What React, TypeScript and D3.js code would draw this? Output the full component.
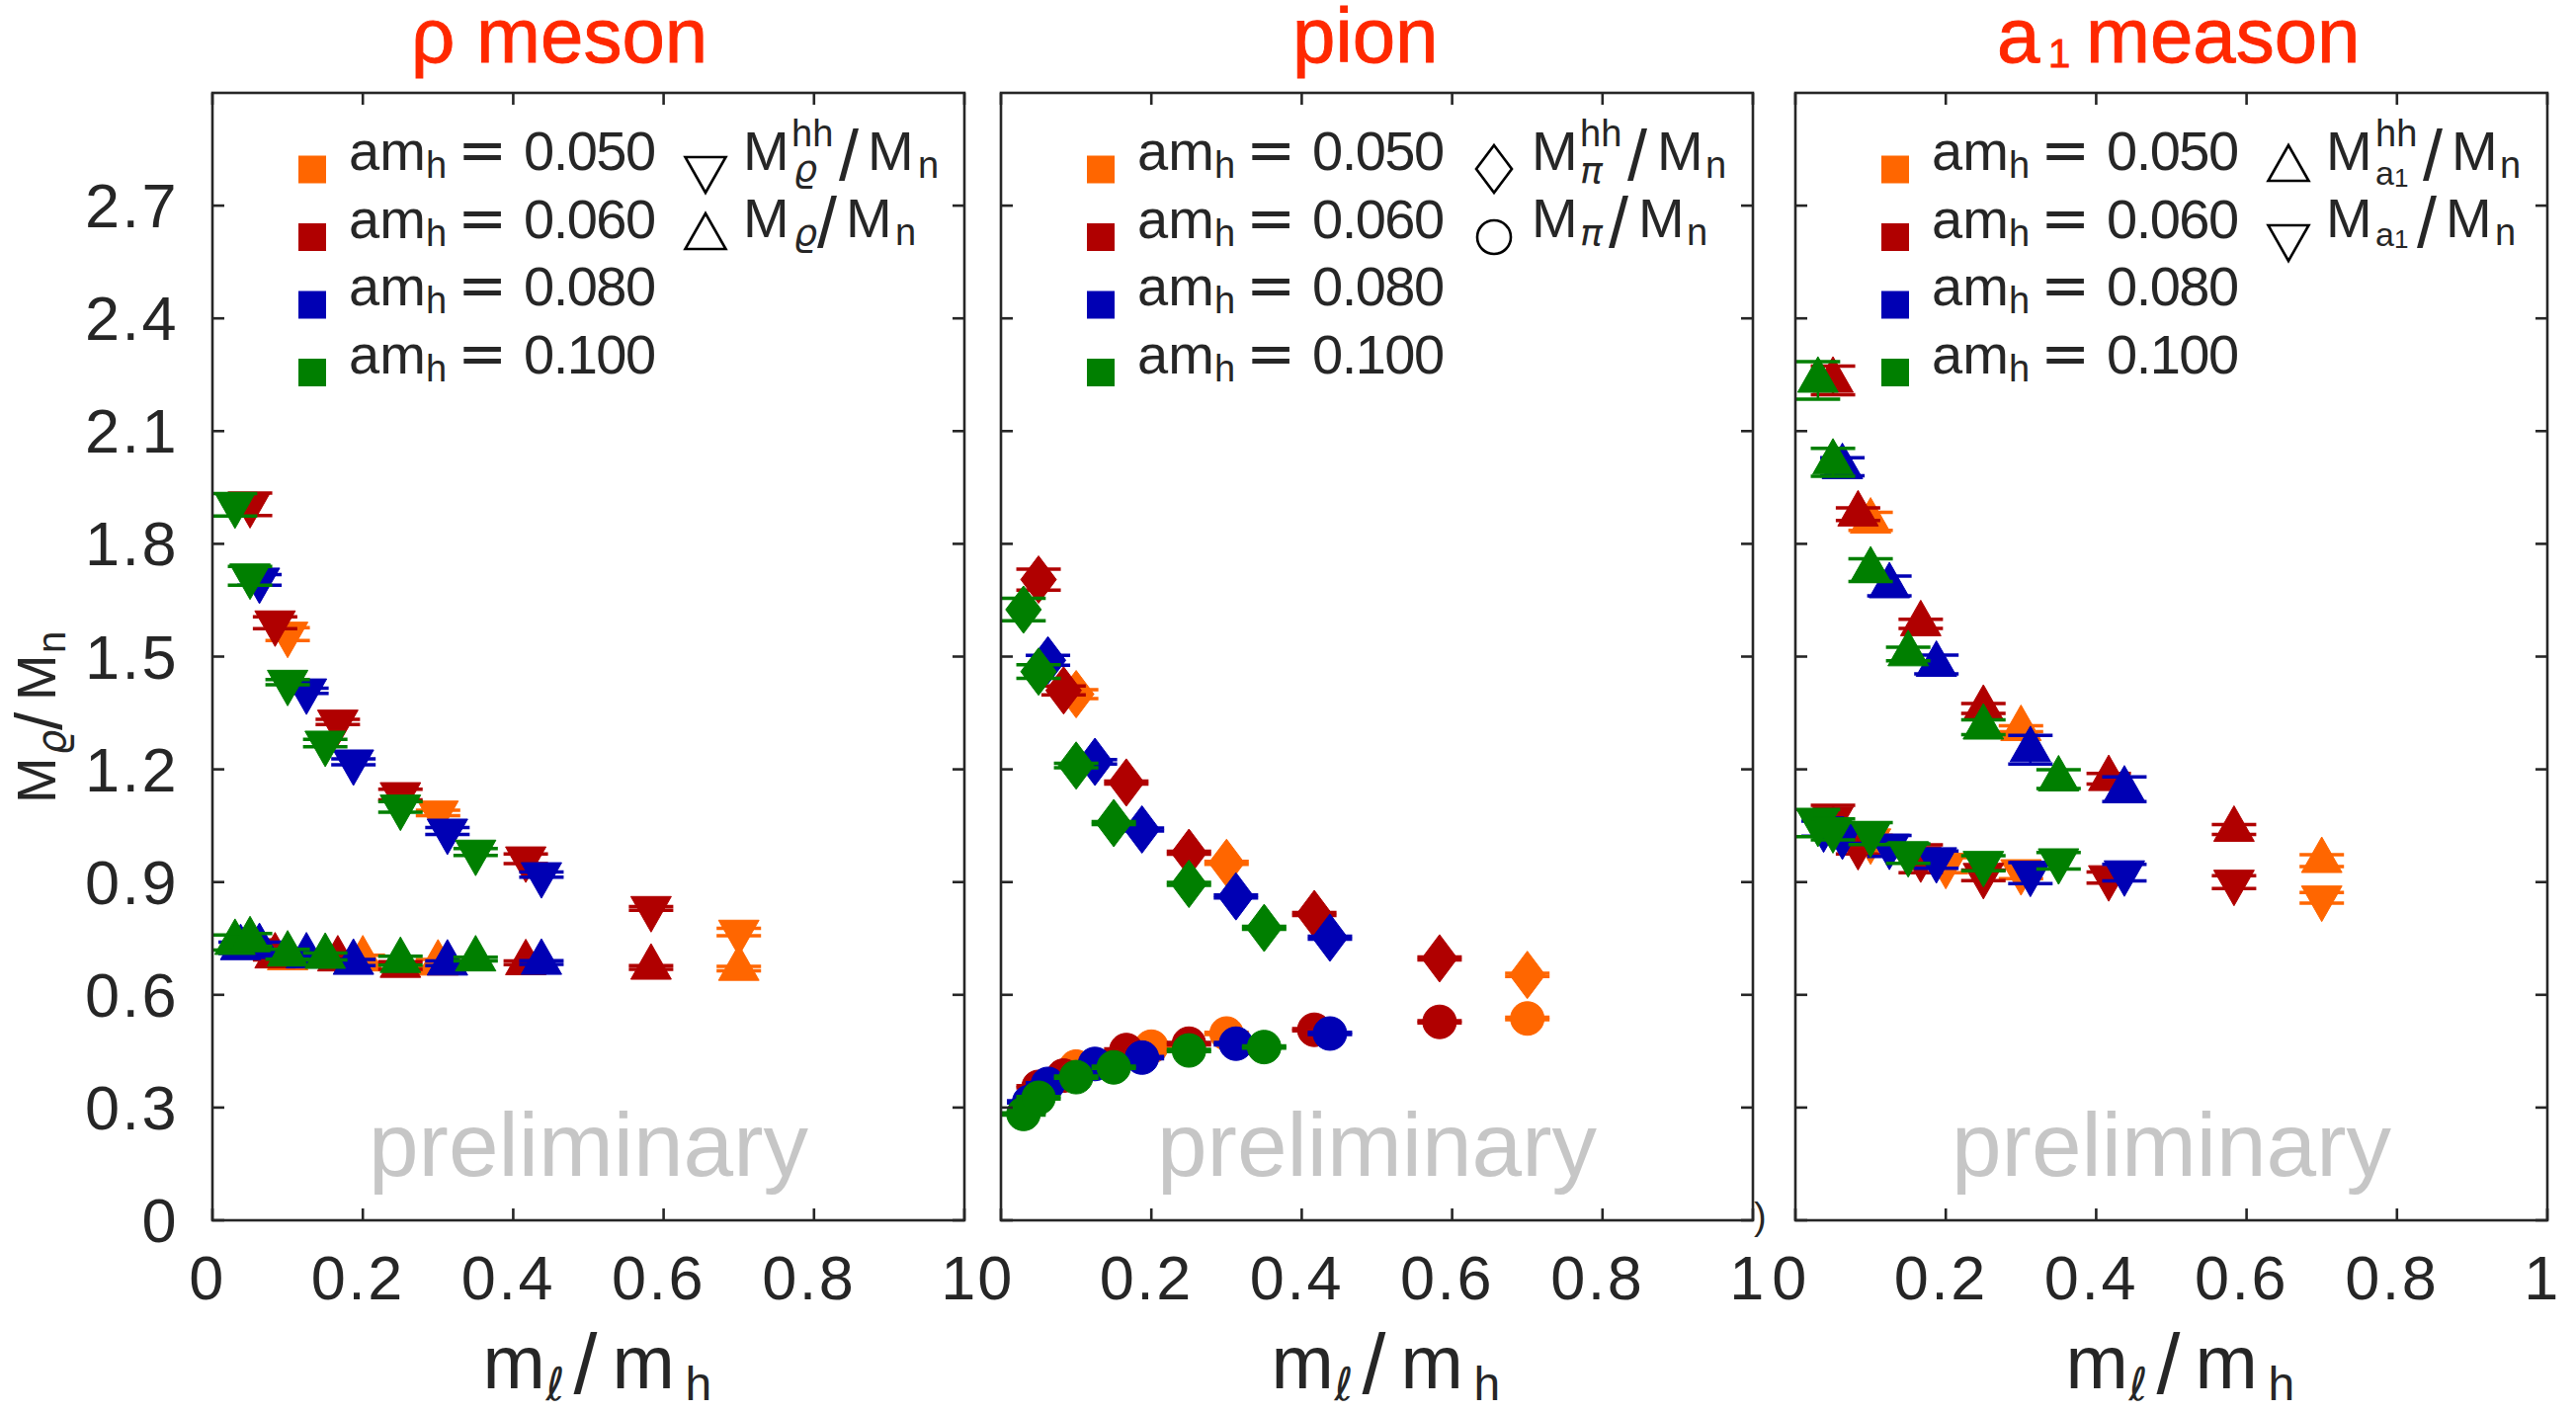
import React from "react";
import * as d3 from "d3";

const FONT = "'Liberation Sans', Arial, Helvetica, sans-serif";
const MATH_FONT = "'DejaVu Sans', 'Liberation Sans', sans-serif";
const INK = "#262626";
const TITLE_RED = "#ff2800";
const WATERMARK = "#c6c6c6";

// heavy-quark masses, drawn in this order (later ensembles sit on top)
const amhLabels = ["0.050", "0.060", "0.080", "0.100"];
const amhColors = ["#ff6600", "#b00000", "#0000b4", "#007f00"];

// m_l / m_h for every ensemble
const ratio050 = [0.1, 0.2, 0.3, 0.7];
const ratio060 = [0.05, 0.0833, 0.1667, 0.25, 0.4167, 0.5833];
const ratio080 = [0.0375, 0.0625, 0.125, 0.1875, 0.3125, 0.4375];
const ratio100 = [0.03, 0.05, 0.1, 0.15, 0.25, 0.35];
const ratios = [ratio050, ratio060, ratio080, ratio100];

// rho: M^hh / M_n and M / M_n (rows: am_h = 0.050, 0.060, 0.080, 0.100)
const rhoHeavy = [
  [1.56, null, 1.084, 0.767],
  [1.905, 1.59, 1.326, 1.133, 0.962, 0.83],
  [null, 1.704, 1.409, 1.22, 1.036, 0.92],
  [1.904, 1.715, 1.432, 1.27, 1.1, 0.98],
];
const rhoHeavyErr = [
  [0.017, 0, 0.007, 0.01],
  [0.03, 0.016, 0.007, 0.014, 0.013, 0.005],
  [0, 0.014, 0.007, 0.008, 0.009, 0.007],
  [0.03, 0.025, 0.007, 0.01, 0.014, 0.009],
];
const rhoLight = [
  [0.698, 0.695, 0.684, 0.67],
  [0.728, 0.703, 0.695, 0.678, 0.685, 0.673],
  [0.725, 0.728, 0.703, 0.686, 0.684, 0.686],
  [0.739, 0.746, 0.708, 0.702, 0.691, 0.695],
];
const rhoLightErr = [
  [0.01, 0.01, 0.01, 0.006],
  [0.018, 0.01, 0.01, 0.01, 0.005, 0.005],
  [0.015, 0.012, 0.01, 0.008, 0.006, 0.005],
  [0.02, 0.017, 0.013, 0.009, 0.012, 0.005],
];

// pion
const pionHeavy = [
  [1.4, null, 0.951, 0.653],
  [1.705, 1.41, 1.165, 0.978, 0.815, 0.697],
  [null, 1.49, 1.22, 1.04, 0.862, 0.752],
  [1.625, 1.46, 1.21, 1.057, 0.895, 0.778],
];
const pionHeavyErr = [
  [0.012, 0, 0.004, 0.004],
  [0.028, 0.012, 0.004, 0.004, 0.004, 0.004],
  [0, 0.013, 0.006, 0.004, 0.004, 0.004],
  [0.03, 0.018, 0.006, 0.004, 0.004, 0.004],
];
const pionLight = [
  [0.409, 0.462, 0.497, 0.537],
  [0.355, 0.385, 0.453, 0.47, 0.507, 0.528],
  [0.315, 0.363, 0.416, 0.433, 0.47, 0.497],
  [0.283, 0.326, 0.381, 0.407, 0.452, 0.461],
];
const pionLightErr = [
  [0.003, 0.003, 0.003, 0.003],
  [0.003, 0.003, 0.003, 0.003, 0.003, 0.003],
  [0.003, 0.003, 0.003, 0.003, 0.003, 0.003],
  [0.003, 0.003, 0.003, 0.003, 0.003, 0.003],
];

// a1
const a1Heavy = [
  [1.86, null, 1.308, 0.957],
  [2.235, 1.879, 1.587, 1.362, 1.175, 1.04],
  [null, 2.005, 1.688, 1.479, 1.252, 1.147],
  [2.235, 2.017, 1.73, 1.507, 1.312, 1.174],
];
const a1HeavyErr = [
  [0.024, 0, 0.008, 0.016],
  [0.038, 0.017, 0.012, 0.013, 0.014, 0.013],
  [0, 0.024, 0.026, 0.025, 0.038, 0.033],
  [0.05, 0.037, 0.03, 0.018, 0.02, 0.025],
];
const a1Light = [
  [1.01, 0.945, 0.928, 0.858],
  [1.068, 0.995, 0.962, 0.918, 0.912, 0.9],
  [1.042, 1.023, 0.996, 0.96, 0.924, 0.925],
  [1.057, 1.04, 1.029, 0.976, 0.95, 0.957],
];
const a1LightErr = [
  [0.015, 0.02, 0.019, 0.014],
  [0.036, 0.02, 0.037, 0.014, 0.015, 0.017],
  [0.02, 0.02, 0.028, 0.023, 0.028, 0.022],
  [0.036, 0.028, 0.029, 0.026, 0.02, 0.022],
];

const xTicks = [0, 0.2, 0.4, 0.6, 0.8, 1];
const xTickLabels = ["0", "0.2", "0.4", "0.6", "0.8", "1"];
const yTicks = [0, 0.3, 0.6, 0.9, 1.2, 1.5, 1.8, 2.1, 2.4, 2.7];
const yTickLabels = ["0", "0.3", "0.6", "0.9", "1.2", "1.5", "1.8", "2.1", "2.4", "2.7"];

type Kind = "up" | "down" | "diamond" | "circle";
type Piece = { t: string; dx: number; dy: number; size: number; italic?: boolean; math?: boolean };

// layout
const FIG_W = 2607;
const FIG_H = 1428;
const PLOT_TOP = 94;
const PLOT_BOTTOM = 1235;
const PANEL_W = 761;
const panelLefts = [215, 1013, 1817];

const TRI_W = 41;
const TRI_H = 36;
const DIA_W = 36;
const DIA_H = 48;
const CIRC_R = 17;
const CAP = 22.5;

function markerPath(kind: Kind): string {
  if (kind === "up") {
    return `M0,${(-2 * TRI_H) / 3}L${TRI_W / 2},${TRI_H / 3}L${-TRI_W / 2},${TRI_H / 3}Z`;
  }
  if (kind === "down") {
    return `M0,${(2 * TRI_H) / 3}L${TRI_W / 2},${-TRI_H / 3}L${-TRI_W / 2},${-TRI_H / 3}Z`;
  }
  if (kind === "diamond") {
    return `M0,${-DIA_H / 2}L${DIA_W / 2},0L0,${DIA_H / 2}L${-DIA_W / 2},0Z`;
  }
  const r = CIRC_R;
  return `M${r},0A${r},${r} 0 1,1 ${-r},0A${r},${r} 0 1,1 ${r},0Z`;
}

const M = (dx: number): Piece => ({ t: "M", dx, dy: 0, size: 56 });
const SLASH = (dx: number): Piece => ({ t: "/", dx, dy: 10, size: 72 });
const SUBN = (dx: number): Piece => ({ t: "n", dx, dy: 8, size: 38 });
const HH: Piece = { t: "hh", dx: 49, dy: -24, size: 38 };

const panels = [
  {
    title: [{ t: "ρ meson", dx: 416, dy: 0, size: 78 }] as Piece[],
    heavy: rhoHeavy,
    heavyErr: rhoHeavyErr,
    light: rhoLight,
    lightErr: rhoLightErr,
    heavyKind: "down" as Kind,
    lightKind: "up" as Kind,
    heavyLabel: [M(0), HH, { t: "ϱ", dx: 51, dy: 11, size: 38, italic: true, math: true }, SLASH(97), M(126), SUBN(177)],
    lightLabel: [M(0), { t: "ϱ", dx: 51, dy: 8, size: 38, italic: true, math: true }, SLASH(75), M(104), SUBN(154)],
  },
  {
    title: [{ t: "pion", dx: 1308, dy: 0, size: 78 }] as Piece[],
    heavy: pionHeavy,
    heavyErr: pionHeavyErr,
    light: pionLight,
    lightErr: pionLightErr,
    heavyKind: "diamond" as Kind,
    lightKind: "circle" as Kind,
    heavyLabel: [M(0), HH, { t: "π", dx: 49, dy: 13, size: 38, italic: true, math: true }, SLASH(97), M(127), SUBN(176)],
    lightLabel: [M(0), { t: "π", dx: 49, dy: 8, size: 38, italic: true, math: true }, SLASH(78), M(108), SUBN(157)],
  },
  {
    title: [
      { t: "a", dx: 2021, dy: 0, size: 78 },
      { t: "1", dx: 2073, dy: 5, size: 40 },
      { t: "meason", dx: 2111, dy: 0, size: 78 },
    ] as Piece[],
    heavy: a1Heavy,
    heavyErr: a1HeavyErr,
    light: a1Light,
    lightErr: a1LightErr,
    heavyKind: "up" as Kind,
    lightKind: "down" as Kind,
    heavyLabel: [
      M(0),
      { t: "hh", dx: 50, dy: -24, size: 38 },
      { t: "a", dx: 50, dy: 15, size: 34 },
      { t: "1", dx: 69, dy: 17, size: 26 },
      SLASH(98),
      M(127),
      SUBN(176),
    ],
    lightLabel: [
      M(0),
      { t: "a", dx: 50, dy: 9, size: 34 },
      { t: "1", dx: 69, dy: 11, size: 26 },
      SLASH(92),
      M(121),
      SUBN(171),
    ],
  },
];

// one <text> element whose pieces are placed explicitly
function MathText({
  pieces,
  x,
  y,
  fill = "#000",
  transform,
  stroke,
  strokeWidth,
}: {
  pieces: Piece[];
  x: number;
  y: number;
  fill?: string;
  transform?: string;
  stroke?: string;
  strokeWidth?: number;
}) {
  return (
    <text fill={fill} transform={transform} stroke={stroke} strokeWidth={strokeWidth}>
      {pieces.map((p, i) => (
        <tspan
          key={i}
          x={x + p.dx}
          y={y + p.dy}
          fontSize={p.size}
          fontStyle={p.italic ? "italic" : "normal"}
          fontFamily={p.math ? MATH_FONT : FONT}
        >
          {p.t}
        </tspan>
      ))}
    </text>
  );
}

const xLabelPieces: Piece[] = [
  { t: "m", dx: 0, dy: 0, size: 76 },
  { t: "ℓ", dx: 64, dy: 12, size: 46, italic: true, math: true },
  { t: "/", dx: 92, dy: 5, size: 86 },
  { t: "m", dx: 131, dy: 0, size: 76 },
  { t: "h", dx: 205, dy: 12, size: 48 },
];

const yLabelPieces: Piece[] = [
  { t: "M", dx: 0, dy: 0, size: 56 },
  { t: "ϱ", dx: 49, dy: 10, size: 40, italic: true, math: true },
  { t: "/", dx: 74, dy: 6, size: 66 },
  { t: "M", dx: 104, dy: 0, size: 56 },
  { t: "n", dx: 152, dy: 10, size: 40 },
];

function Series({
  xs,
  vals,
  errs,
  color,
  kind,
  x,
  y,
}: {
  xs: number[];
  vals: (number | null)[];
  errs: number[];
  color: string;
  kind: Kind;
  x: d3.ScaleLinear<number, number>;
  y: d3.ScaleLinear<number, number>;
}) {
  const path = markerPath(kind);
  return (
    <g>
      {vals.map((v, i) => {
        if (v == null) return null;
        const cx = x(xs[i]);
        const cy = y(v);
        const yHi = y(v + errs[i]) - cy;
        const yLo = y(v - errs[i]) - cy;
        return (
          <g key={i} transform={`translate(${cx},${cy})`}>
            <g stroke={color} strokeWidth={3.5} fill="none">
              <line x1={0} x2={0} y1={yHi} y2={yLo} strokeWidth={2.5} />
              <line x1={-CAP} x2={CAP} y1={yHi} y2={yHi} />
              <line x1={-CAP} x2={CAP} y1={yLo} y2={yLo} />
            </g>
            <path d={path} fill={color} stroke={color} strokeWidth={1} />
          </g>
        );
      })}
    </g>
  );
}

function Panel({ spec, index }: { spec: (typeof panels)[number]; index: number }) {
  const left = panelLefts[index];
  const x = d3.scaleLinear().domain([0, 1]).range([left, left + PANEL_W]);
  const y = d3.scaleLinear().domain([0, 3]).range([PLOT_BOTTOM, PLOT_TOP]);
  const cx = left + PANEL_W / 2;
  const tick = 12;
  return (
    <g>
      {/* title */}
      <MathText pieces={spec.title} x={0} y={63} fill={TITLE_RED} stroke={TITLE_RED} strokeWidth={0.9} />

      {/* watermark */}
      <text x={cx} y={1190} textAnchor="middle" fontSize={91} fill={WATERMARK}>
        preliminary
      </text>

      {/* data */}
      {ratios.map((xs, ci) => (
        <g key={ci}>
          <Series
            xs={xs}
            vals={spec.heavy[ci]}
            errs={spec.heavyErr[ci]}
            color={amhColors[ci]}
            kind={spec.heavyKind}
            x={x}
            y={y}
          />
          <Series
            xs={xs}
            vals={spec.light[ci]}
            errs={spec.lightErr[ci]}
            color={amhColors[ci]}
            kind={spec.lightKind}
            x={x}
            y={y}
          />
        </g>
      ))}

      {/* frame and ticks */}
      <g stroke={INK} strokeWidth={2.6} fill="none">
        <rect x={left} y={PLOT_TOP} width={PANEL_W} height={PLOT_BOTTOM - PLOT_TOP} />
        {xTicks.map((t) => (
          <g key={t}>
            <line x1={x(t)} x2={x(t)} y1={PLOT_BOTTOM} y2={PLOT_BOTTOM - tick} />
            <line x1={x(t)} x2={x(t)} y1={PLOT_TOP} y2={PLOT_TOP + tick} />
          </g>
        ))}
        {yTicks.map((t) => (
          <g key={t}>
            <line x1={left} x2={left + tick} y1={y(t)} y2={y(t)} />
            <line x1={left + PANEL_W} x2={left + PANEL_W - tick} y1={y(t)} y2={y(t)} />
          </g>
        ))}
      </g>

      {/* x tick labels */}
      {xTicks.map((t, i) => (
        <text
          key={t}
          x={x(t) - 5}
          y={1315}
          textAnchor="middle"
          fontSize={63}
          letterSpacing={2.5}
          fill={INK}
        >
          {xTickLabels[i]}
        </text>
      ))}

      {/* y tick labels on the first panel only */}
      {index === 0 &&
        yTicks.map((t, i) => (
          <text
            key={t}
            x={left - 34}
            y={y(t) + 22}
            textAnchor="end"
            fontSize={63}
            letterSpacing={2.5}
            fill={INK}
          >
            {yTickLabels[i]}
          </text>
        ))}

      {/* x axis label */}
      <MathText pieces={xLabelPieces} x={cx - 107} y={1405} fill={INK} />

      {/* legend: ensembles */}
      {amhLabels.map((lab, i) => {
        const base = 172 + i * 68.5;
        return (
          <g key={lab}>
            <rect x={left + 101 - 14} y={base - 0.5 - 14} width={28} height={28} fill={amhColors[i]} />
            <text fill={INK}>
              <tspan x={left + 138} y={base} fontSize={56}>am</tspan>
              <tspan x={left + 216} y={base + 8} fontSize={38}>h</tspan>
              <tspan x={left + 248} y={base} fontSize={60} fontFamily={MATH_FONT}>=</tspan>
              <tspan x={left + 315} y={base} fontSize={56} letterSpacing={-1.5}>{lab}</tspan>
            </text>
          </g>
        );
      })}

      {/* legend: observables */}
      <g fill="none" stroke="#000" strokeWidth={2.6}>
        <path d={markerPath(spec.heavyKind)} transform={`translate(${left + 499},171)`} />
        <path d={markerPath(spec.lightKind)} transform={`translate(${left + 499},240)`} />
      </g>
      <MathText pieces={spec.heavyLabel} x={left + 537} y={172} fill={INK} />
      <MathText pieces={spec.lightLabel} x={left + 537} y={240} fill={INK} />
    </g>
  );
}

export default function App() {
  return (
    <svg
      width={FIG_W}
      height={FIG_H}
      viewBox={`0 0 ${FIG_W} ${FIG_H}`}
      style={{ position: "absolute", left: 0, top: 0, background: "#fff" }}
      fontFamily={FONT}
    >
      <rect width={FIG_W} height={FIG_H} fill="#fff" />
      {panels.map((p, i) => (
        <Panel key={i} spec={p} index={i} />
      ))}

      {/* y axis label */}
      <MathText pieces={yLabelPieces} x={0} y={0} fill={INK} transform="translate(56,813) rotate(-90)" />

      {/* stray glyph at the middle panel's corner */}
      <text x={1775} y={1244} fontSize={38} fill={INK}>)</text>
    </svg>
  );
}
